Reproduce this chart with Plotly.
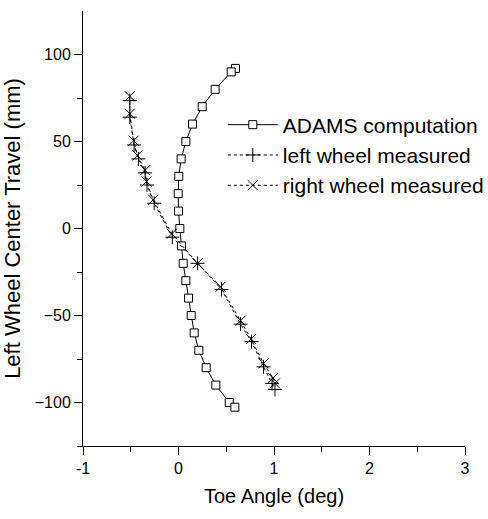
import plotly.graph_objects as go

adams_toe = [0.597, 0.552, 0.384, 0.248, 0.147, 0.077, 0.028, 0.003, -0.003, 0.0, 0.014,
             0.031, 0.049, 0.077, 0.105, 0.133, 0.164, 0.213, 0.290, 0.391, 0.531, 0.590]
adams_travel = [92, 90, 80, 70, 60, 50, 40, 30, 20, 10, 0,
                -10, -20, -30, -40, -50, -60, -70, -80, -90, -100, -102.7]

left_toe = [-0.51, -0.51, -0.465, -0.42, -0.35, -0.33, -0.255, -0.065, 0.2, 0.45, 0.65, 0.765, 0.89, 0.98, 1.01]
left_travel = [73.5, 64, 48, 40, 32, 25, 14.5, -5, -20, -35, -55, -65, -79.5, -89, -92.5]

right_toe = [-0.51, -0.51, -0.47, -0.43, -0.35, -0.335, -0.265, -0.07, 0.2, 0.44, 0.65, 0.76, 0.89, 0.99, 1.01]
right_travel = [76, 66, 50.5, 42, 33.5, 27, 16.5, -3, -20, -33.5, -53, -63.5, -77.5, -86, -89]

FONT = "Arial, Liberation Sans, sans-serif"

fig = go.Figure()
fig.add_trace(go.Scatter(
    x=adams_toe, y=adams_travel, mode="lines+markers", name="ADAMS computation",
    line=dict(color="black", width=1),
    marker=dict(symbol="square", size=8, color="white", line=dict(color="black", width=1)),
))
fig.add_trace(go.Scatter(
    x=left_toe, y=left_travel, mode="lines+markers", name="left wheel measured",
    line=dict(color="black", width=1, dash="dot"),
    marker=dict(symbol="cross-thin-open", size=10, color="black", line=dict(color="black", width=1)),
))
fig.add_trace(go.Scatter(
    x=right_toe, y=right_travel, mode="lines+markers", name="right wheel measured",
    line=dict(color="black", width=1, dash="dot"),
    marker=dict(symbol="x-thin-open", size=10, color="black", line=dict(color="black", width=1)),
))

fig.update_layout(
    width=488, height=519,
    margin=dict(l=83, r=23, t=11, b=73, autoexpand=False),
    paper_bgcolor="white", plot_bgcolor="white",
    font=dict(family=FONT, color="black"),
    showlegend=True,
    legend=dict(x=0.366, y=0.785, xanchor="left", yanchor="top",
                font=dict(size=21, family=FONT), bgcolor="rgba(0,0,0,0)",
                tracegroupgap=0, itemwidth=50),
    xaxis=dict(
        range=[-1, 3], showgrid=False, zeroline=False,
        showline=True, linecolor="black", linewidth=1,
        ticks="outside", ticklen=8, tickwidth=1, tickcolor="black",
        tickvals=[-1, 0, 1, 2, 3], ticktext=["-1", "0", "1", "2", "3"],
        tickfont=dict(size=16, family=FONT),
        minor=dict(tickvals=[-0.5, 0.5, 1.5, 2.5], ticks="outside", ticklen=5, tickcolor="black", tickwidth=1),
        title=dict(text="Toe Angle (deg)", font=dict(size=20, family=FONT), standoff=12),
    ),
    yaxis=dict(
        range=[-125, 125], showgrid=False, zeroline=False,
        showline=True, linecolor="black", linewidth=1,
        ticks="outside", ticklen=8, tickwidth=1, tickcolor="black",
        tickvals=[-100, -50, 0, 50, 100],
        tickfont=dict(size=16, family=FONT),
        minor=dict(tickvals=[-125, -75, -25, 25, 75], ticks="outside", ticklen=5, tickcolor="black", tickwidth=1),
        title=dict(text="Left Wheel Center Travel (mm)", font=dict(size=22, family=FONT), standoff=8),
    ),
)

fig.write_html("out.html")
